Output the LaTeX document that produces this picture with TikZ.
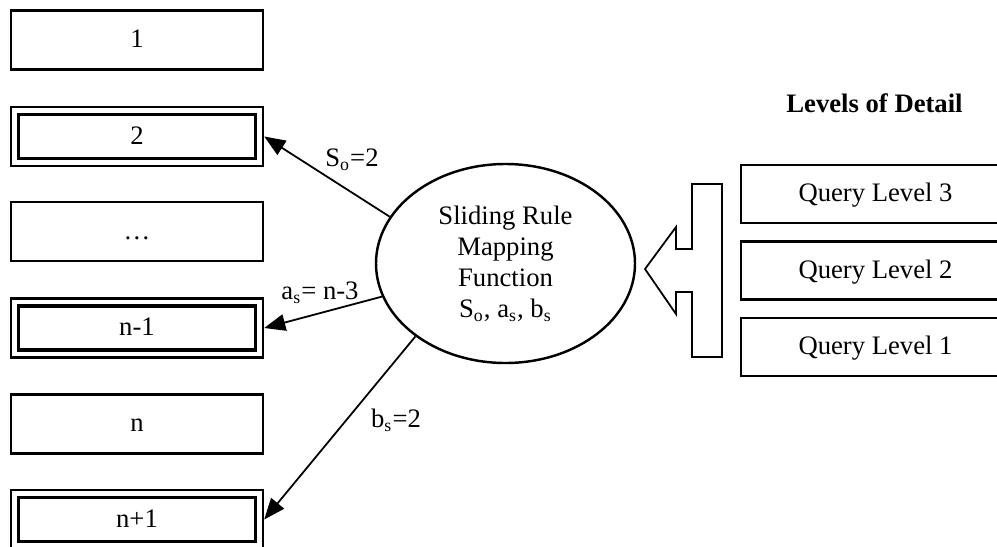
\documentclass[tikz,border=0pt]{standalone}
\usepackage{fontspec}
\setmainfont{Liberation Serif}
\usetikzlibrary{arrows.meta,shapes.geometric}
\begin{document}
\begin{tikzpicture}[x=0.45pt,y=-0.45pt,
  txt/.style={font=\fontsize{12}{14}\selectfont},
  box/.style={txt,draw,line width=1.1pt,minimum width=113.4pt,minimum height=26.55pt,inner sep=0pt,text height=7pt,text depth=0pt},
  outerbox/.style={draw,line width=1.1pt,minimum width=113.4pt,minimum height=26.55pt,inner sep=0pt},
  innerbox/.style={txt,draw,line width=1.7pt,minimum width=106.65pt,minimum height=19.8pt,inner sep=0pt,text height=7pt,text depth=0pt},
  qbox/.style={txt,draw,line width=1.1pt,minimum width=121pt,minimum height=26.1pt,inner sep=0pt,text height=7pt,text depth=0pt},
  conn/.style={line width=0.8pt,-{Triangle[length=9.5pt,width=7.5pt]}},
  lbl/.style={txt,inner sep=0pt}
]
\useasboundingbox (0,0) rectangle (997,546);
% left column
\node[box] (b1) at (137,40) {1};
\node[outerbox] (b2) at (137,136.5) {};
\node[innerbox] (b2i) at (137,136.5) {2};
\node[box] (bdots) at (137,231.5) {\ldots};
\node[outerbox] (bn1) at (137,328) {};
\node[innerbox] (bn1i) at (137,328) {n-1};
\node[box] (bn) at (137,424) {n};
\node[outerbox] (bnp1) at (137,519.5) {};
\node[innerbox] (bnp1i) at (137,519.5) {n+1};
% ellipse
\node[txt,draw,ellipse,line width=1.1pt,minimum width=116.55pt,minimum height=89.55pt,inner sep=0pt,align=center] (e) at (505.5,263.5)
  {Sliding Rule\\Mapping\\Function\\S\textsubscript{o}, a\textsubscript{s}, b\textsubscript{s}};
% connectors
\draw[conn] (e.158.5) -- (b2.east);
\draw[conn] (e.195.4) -- (bn1.east);
\draw[conn] (e.219.5) -- (bnp1.east);
\node[lbl] (l1) at (352,160) {S\textsubscript{o}=2};
\node[lbl] (l2) at (320,293) {a\textsubscript{s}= n-3};
\node[lbl] (l3) at (396,420) {b\textsubscript{s}=2};
% right side
\node[txt,font=\fontsize{12}{14}\selectfont\bfseries] (lod) at (874.5,103) {Levels of Detail};
\node[qbox] (q3) at (875.5,194) {Query Level 3};
\node[qbox] (q2) at (875.5,270.5) {Query Level 2};
\node[qbox] (q1) at (875.5,347) {Query Level 1};
% block arrow
\draw[line width=0.8pt,line join=miter] (645,269) -- (676,227) -- (676,249) -- (692,249) -- (692,184) -- (722,184)
  -- (722,357) -- (692,357) -- (692,292) -- (676,292) -- (676,314) -- cycle;
\end{tikzpicture}
\end{document}
